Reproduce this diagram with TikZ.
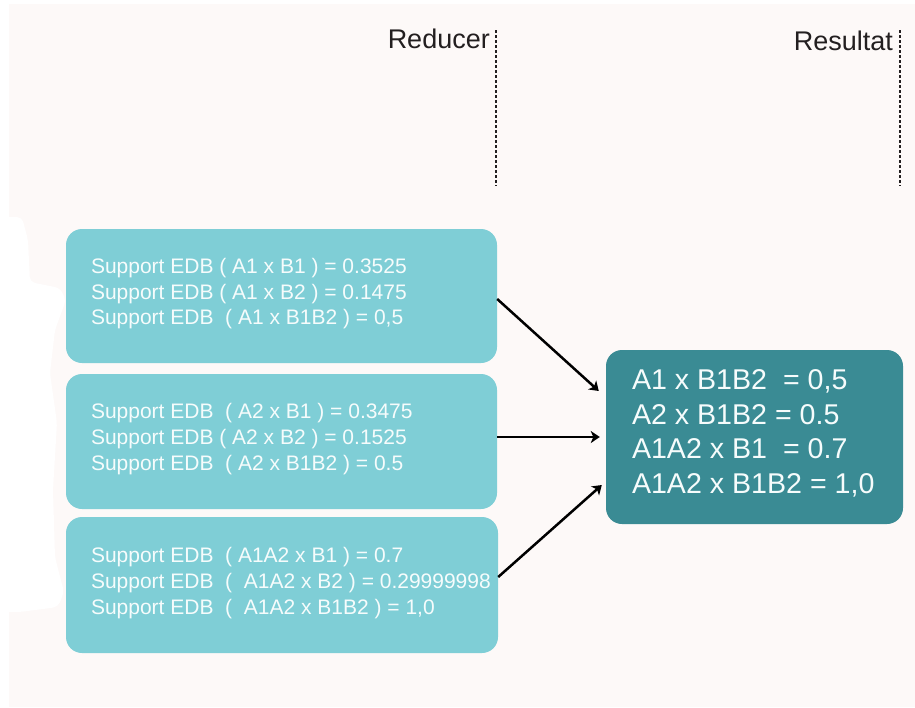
\documentclass[tikz,border=0pt]{standalone}
\usepackage{fontspec}
\setmainfont{Liberation Sans}
\usetikzlibrary{arrows.meta}
\definecolor{pagebg}{RGB}{253,249,248}
\definecolor{lightteal}{RGB}{127,206,214}
\definecolor{darkteal}{RGB}{58,139,148}
\definecolor{inkgray}{RGB}{35,31,32}
\definecolor{softwhite}{RGB}{246,252,252}
\begin{document}
\begin{tikzpicture}[x=1pt,y=-1pt,
  srcbox/.style={fill=lightteal, rounded corners=16pt, minimum width=431pt, inner sep=0pt, draw=none},
  resbox/.style={fill=darkteal, rounded corners=16pt, minimum width=297pt, minimum height=174pt, inner sep=0pt, draw=none},
  srctext/.style={anchor=west, inner sep=0pt, align=left, text=softwhite,
    font=\fontsize{21pt}{25.7pt}\selectfont},
  restext/.style={anchor=west, inner sep=0pt, align=left, text=softwhite,
    font=\fontsize{28.6pt}{34.7pt}\selectfont},
  colhead/.style={anchor=base east, inner sep=0pt, text=inkgray,
    font=\fontsize{27pt}{32pt}\selectfont},
  divider/.style={draw=inkgray, line width=1.3pt, dash pattern=on 3pt off 2pt},
  flow/.style={draw=black, line width=2.5pt, -{Stealth[length=9pt,width=12pt,inset=2.5pt]}}]

% page and margins
\useasboundingbox (0,0) rectangle (915,707);
\fill[white] (0,0) rectangle (915,707);
\fill[pagebg] (9,4) rectangle (915,707);
\fill[white, rounded corners=5pt] (0,217) -- (22,217) -- (28,240) -- (30,282)
  -- (60,288) -- (66,300) -- (55,330) -- (50,373) -- (57,423) -- (53,490)
  -- (55,557) -- (64,592) -- (58,607) -- (20,612) -- (0,612) -- cycle;

% column headers with dotted dividers
\node[colhead] (redlabel) at (490,48) {Reducer};
\node[colhead] (reslabel) at (893,50) {Resultat};
\coordinate (redtop) at (496,30);
\coordinate (redbot) at (496,186);
\coordinate (restop) at (900,30);
\coordinate (resbot) at (900,186);
\draw[divider] (redtop) -- (redbot);
\draw[divider] (restop) -- (resbot);

% reducer outputs
\node[srcbox, minimum height=134pt] (b1) at (281.5,296) {};
\node[srcbox, minimum height=135pt] (b2) at (281.5,441.5) {};
\node[srcbox, minimum width=432pt, minimum height=136pt] (b3) at (282,585) {};

\node[srctext] (t1) at ([xshift=25pt,yshift=2.4pt]b1.west)
  {Support EDB ( A1 x B1 ) = 0.3525\\
   Support EDB ( A1 x B2 ) = 0.1475\\
   Support EDB~ ( A1 x B1B2 ) = 0,5};
\node[srctext] (t2) at ([xshift=25pt,yshift=2.3pt]b2.west)
  {Support EDB~ ( A2 x B1 ) = 0.3475\\
   Support EDB ( A2 x B2 ) = 0.1525\\
   Support EDB~ ( A2 x B1B2 ) = 0.5};
\node[srctext] (t3) at ([xshift=25pt,yshift=2pt]b3.west)
  {Support EDB~ ( A1A2 x B1 ) = 0.7\\
   Support EDB~ (~ A1A2 x B2 ) = 0.29999998\\
   Support EDB~ (~ A1A2 x B1B2 ) = 1,0};

% final result
\node[resbox] (res) at (754.5,437) {};
\node[restext] (rt) at ([xshift=26pt,yshift=3.8pt]res.west)
  {A1 x B1B2~ = 0,5\\
   A2 x B1B2 = 0.5\\
   A1A2 x B1~ = 0.7\\
   A1A2 x B1B2 = 1,0};

% flows into the result
\draw[flow] ([yshift=-3pt]b1.east) -- ([xshift=-7pt,yshift=46pt]res.west);
\draw[flow] (b2.east |- res.west) -- ([xshift=-6pt]res.west);
\draw[flow] ([yshift=8pt]b3.east) -- ([xshift=-4pt,yshift=-48pt]res.west);
\end{tikzpicture}
\end{document}
